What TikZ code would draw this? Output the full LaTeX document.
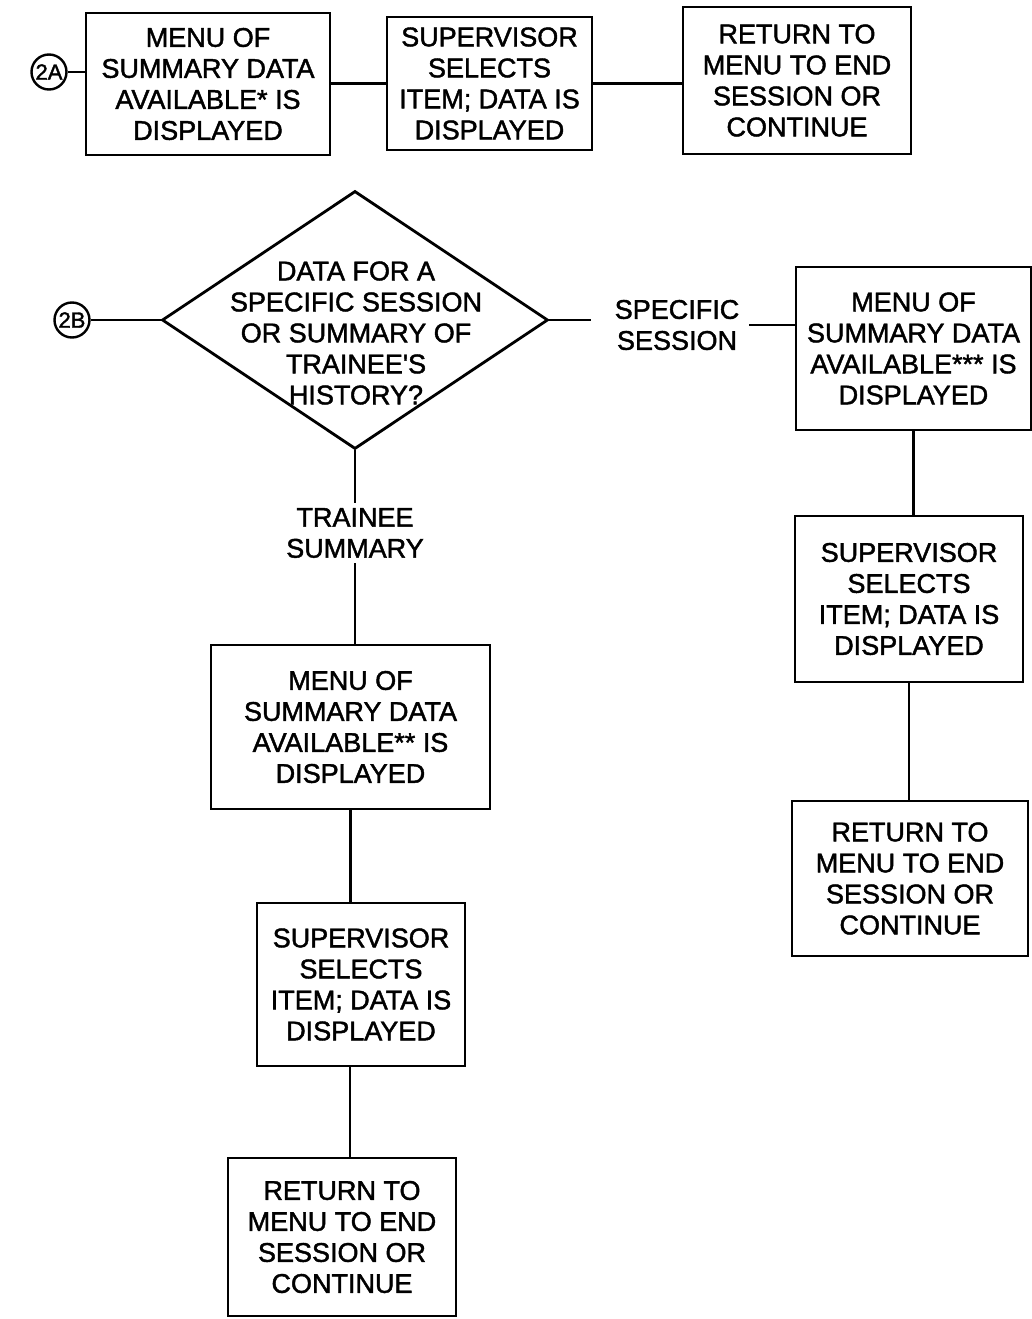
\documentclass[tikz,border=0pt]{standalone}
\usepackage{fontspec}
\setmainfont{Liberation Sans}[FakeBold=1.6]
\usetikzlibrary{shapes.geometric}
\begin{document}
\begin{tikzpicture}[x=1pt,y=-1pt,
  every node/.style={font=\fontsize{27}{31}\selectfont, align=center},
  stepbox/.style={draw, rectangle, line width=2.8pt, inner sep=0pt},
  decision/.style={draw, diamond, line width=2.8pt, inner sep=0pt},
  connector/.style={draw, circle, line width=2.4pt, inner sep=0pt,
    minimum size=35pt, font=\fontsize{22}{22}\selectfont},
  tag/.style={inner xsep=10pt, inner ysep=5pt},
  link/.style={line width=2.6pt}]
\useasboundingbox (0,0) rectangle (1032,1319);

% entry 2A: summary menu row
\node[connector] (c2a) at (49,72) {2A};
\node[stepbox, minimum width=244pt, minimum height=142pt] (B1) at (208,84)
  {MENU OF\\SUMMARY DATA\\AVAILABLE* IS\\DISPLAYED};
\node[stepbox, minimum width=205pt, minimum height=133pt] (B2) at (489.5,83.5)
  {SUPERVISOR\\SELECTS\\ITEM; DATA IS\\DISPLAYED};
\node[stepbox, minimum width=228pt, minimum height=147pt] (B3) at (797,80.5)
  {RETURN TO\\MENU TO END\\SESSION OR\\CONTINUE};

% entry 2B: decision
\node[connector] (c2b) at (72,320) {2B};
\node[decision, minimum width=386pt, minimum height=258pt] (D) at (355,320) {};
\node (Dt) at (356,333)
  {DATA FOR A\\SPECIFIC SESSION\\OR SUMMARY OF\\TRAINEE\textquotesingle S\\HISTORY?};

% specific-session branch
\node[tag] (SS) at (677,325) {SPECIFIC\\SESSION};
\node[stepbox, minimum width=235pt, minimum height=163pt] (R1) at (913.5,348.5)
  {MENU OF\\SUMMARY DATA\\AVAILABLE*** IS\\DISPLAYED};
\node[stepbox, minimum width=228pt, minimum height=166pt] (R2) at (909,599)
  {SUPERVISOR\\SELECTS\\ITEM; DATA IS\\DISPLAYED};
\node[stepbox, minimum width=236pt, minimum height=155pt] (R3) at (910,878.5)
  {RETURN TO\\MENU TO END\\SESSION OR\\CONTINUE};

% trainee-summary branch
\node[tag] (TS) at (355,533) {TRAINEE\\SUMMARY};
\node[stepbox, minimum width=279pt, minimum height=164pt] (L1) at (350.5,727)
  {MENU OF\\SUMMARY DATA\\AVAILABLE** IS\\DISPLAYED};
\node[stepbox, minimum width=208pt, minimum height=163pt] (L2) at (361,984.5)
  {SUPERVISOR\\SELECTS\\ITEM; DATA IS\\DISPLAYED};
\node[stepbox, minimum width=228pt, minimum height=158pt] (L3) at (342,1237)
  {RETURN TO\\MENU TO END\\SESSION OR\\CONTINUE};

% connectors
\draw[link] (c2a) -- (B1.west |- c2a);
\draw[link] (B2.west) -- (B1.east |- B2.west);
\draw[link] (B2.east) -- (B3.west |- B2.east);
\draw[link] (c2b) -- (D.west);
\draw[link] (D.east) -- ([xshift=-14pt]SS.west |- D.east);
\draw[link] (SS.east) -- (R1.west |- SS.east);
\draw[link] (R1.south) -- (R1.south |- R2.north);
\draw[link] (R2.south) -- (R2.south |- R3.north);
\draw[link] (D.south) -- (TS.north);
\draw[link] (TS.south) -- (TS.south |- L1.north);
\draw[link] (L1.south) -- (L1.south |- L2.north);
\draw[link] ([xshift=-11pt]L2.south) -- ([xshift=-11pt]L2.south |- L3.north);
\end{tikzpicture}
\end{document}
